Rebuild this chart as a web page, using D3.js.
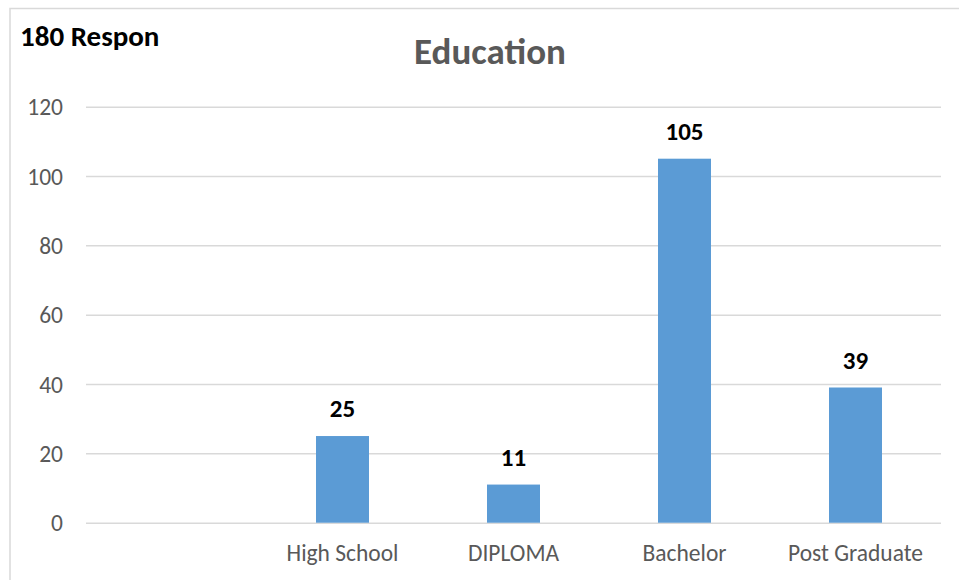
<!DOCTYPE html>
<html>
<head>
<meta charset="utf-8">
<script src="https://cdn.jsdelivr.net/npm/d3@7"></script>
<style>
  html, body { margin: 0; padding: 0; background: #fff; }
  svg { display: block; }
</style>
</head>
<body>
<svg id="chart" width="959" height="580"></svg>
<script>
const categories = ["", "High School", "DIPLOMA", "Bachelor", "Post Graduate"];
const values = [null, 25, 11, 105, 39];
const yTicks = [0, 20, 40, 60, 80, 100, 120];
const title = "Education";
const note = "180 Respon";

const FONT = "Carlito, Calibri, Lato, 'Open Sans', sans-serif";
const svg = d3.select("#chart");
const W = 959, H = 580;

// outer chart border (extends beyond the visible crop)
svg.append("rect")
  .attr("x", 10).attr("y", 8.5)
  .attr("width", W + 20).attr("height", H + 20)
  .attr("fill", "#fff").attr("stroke", "#d9d9d9").attr("stroke-width", 1.5);

const x = d3.scaleBand().domain(categories.map((d, i) => i)).range([86, 941]).paddingInner(0).paddingOuter(0);
const y = d3.scaleLinear().domain([0, 120]).range([522.7, 106.7]);

// gridlines
const yAxis = d3.axisLeft(y).tickValues(yTicks).tickSize(-(941 - 86)).tickPadding(23);
const gy = svg.append("g").attr("transform", "translate(86,0)").call(yAxis);
gy.select(".domain").remove();
gy.selectAll(".tick line").attr("stroke", "#d9d9d9").attr("stroke-width", 1.5);
gy.selectAll(".tick text")
  .attr("fill", "#595959").attr("font-family", FONT).attr("font-size", 23.5)
  .attr("dy", "0.35em");

// bars
const barW = 53;
const data = categories.map((c, i) => ({ i, c, v: values[i] })).filter(d => d.v != null);
svg.append("g").selectAll("rect").data(data).join("rect")
  .attr("x", d => x(d.i) + x.bandwidth() / 2 - barW / 2)
  .attr("y", d => y(d.v))
  .attr("width", barW)
  .attr("height", d => y(0) - y(d.v))
  .attr("fill", "#5b9bd5");

// data labels
svg.append("g").selectAll("text").data(data).join("text")
  .attr("x", d => x(d.i) + x.bandwidth() / 2)
  .attr("y", d => y(d.v) - 19)
  .attr("text-anchor", "middle")
  .attr("font-family", FONT).attr("font-weight", "bold").attr("font-size", 25)
  .attr("fill", "#000")
  .text(d => d.v);

// x axis labels
const xAxis = d3.axisBottom(x).tickSize(0).tickFormat(i => categories[i]);
const gx = svg.append("g").attr("transform", "translate(0,522.7)").call(xAxis);
gx.select(".domain").remove();
gx.selectAll(".tick text")
  .attr("fill", "#595959").attr("font-family", FONT).attr("font-size", 23.5)
  .attr("y", 0).attr("dy", 38);

// title
svg.append("text")
  .attr("x", 490).attr("y", 64)
  .attr("text-anchor", "middle")
  .attr("font-family", FONT).attr("font-weight", "bold").attr("font-size", 37)
  .attr("fill", "#595959")
  .text(title);

// corner note
svg.append("text")
  .attr("x", 20).attr("y", 46)
  .attr("font-family", FONT).attr("font-weight", "bold").attr("font-size", 29)
  .attr("fill", "#000")
  .text(note);
</script>
</body>
</html>
